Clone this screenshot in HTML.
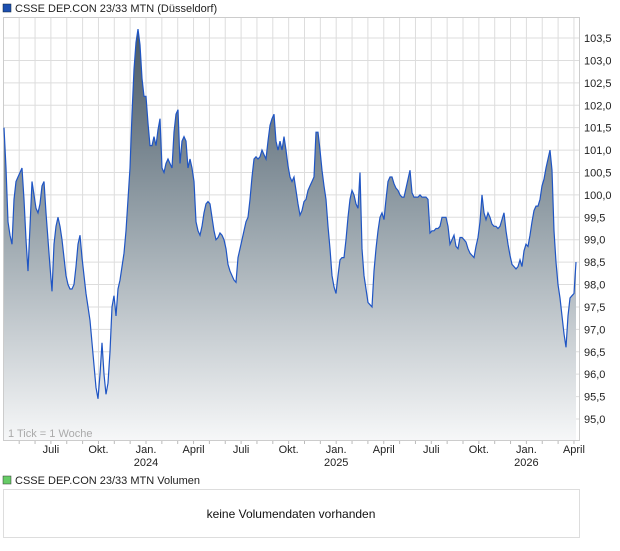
<!DOCTYPE html>
<html><head><meta charset="utf-8"><style>
body{margin:0;background:#fff;font-family:"Liberation Sans",Arial,sans-serif;}
svg text{font-family:"Liberation Sans",Arial,sans-serif;}
</style></head><body>
<svg id="c" width="620" height="546" xmlns="http://www.w3.org/2000/svg">
<defs><linearGradient id="g" gradientUnits="userSpaceOnUse" x1="0" y1="30" x2="0" y2="440">
<stop offset="0" stop-color="#485866"/><stop offset="0.45" stop-color="#94a0a8"/><stop offset="1" stop-color="#f6f7f8"/></linearGradient></defs>
<rect x="3" y="4" width="8" height="8" fill="#1c4fb0" stroke="#123" stroke-width="0.5"/>
<text x="15" y="12" font-size="11" fill="#222">CSSE DEP.CON 23/33 MTN (Düsseldorf)</text>
<rect x="3.5" y="17.5" width="576" height="423" fill="#fff" stroke="#ccc"/>
<g id="grid"></g><g id="series"></g><g id="axes"></g>
<text x="8" y="437" font-size="11" fill="#aaa">1 Tick = 1 Woche</text>
<rect x="3" y="476" width="8" height="8" fill="#6c6" stroke="#333" stroke-width="0.5"/>
<text x="15" y="484" font-size="11" fill="#222">CSSE DEP.CON 23/33 MTN Volumen</text>
<rect x="3.5" y="489.5" width="576" height="48" fill="#fff" stroke="#ddd"/>
<text x="291" y="518" font-size="12" fill="#111" text-anchor="middle">keine Volumendaten vorhanden</text>
</svg>
<script>
const prices=[101.5,100.6,99.4,99.1,98.9,99.9,100.3,100.4,100.5,100.6,99.9,99.0,98.3,99.3,100.3,100.0,99.7,99.6,99.8,100.2,100.3,99.6,99.0,98.4,97.85,98.9,99.3,99.5,99.3,99.0,98.6,98.2,98.0,97.9,97.9,98.0,98.4,98.9,99.1,98.6,98.2,97.8,97.5,97.2,96.7,96.2,95.7,95.45,96.0,96.7,96.0,95.55,95.8,96.5,97.5,97.75,97.3,97.9,98.1,98.4,98.7,99.2,99.9,100.6,101.8,102.8,103.4,103.7,103.35,102.6,102.2,102.2,101.6,101.1,101.1,101.3,101.1,101.45,101.7,100.6,100.5,100.7,100.8,100.7,100.6,101.4,101.8,101.9,100.7,101.2,101.3,101.2,100.6,100.8,100.6,100.3,99.4,99.2,99.1,99.3,99.6,99.8,99.85,99.8,99.5,99.2,99.0,99.05,99.15,99.1,99.0,98.8,98.45,98.3,98.2,98.1,98.05,98.6,98.8,99.0,99.2,99.4,99.5,99.9,100.4,100.8,100.85,100.8,100.85,101.0,100.9,100.8,101.2,101.55,101.7,101.8,101.2,101.0,101.2,101.0,101.3,101.0,100.65,100.4,100.3,100.4,100.1,99.8,99.55,99.65,99.85,99.9,100.1,100.2,100.3,100.4,101.4,101.4,101.0,100.55,100.2,99.9,99.3,98.8,98.2,97.95,97.8,98.2,98.55,98.6,98.6,99.0,99.5,99.9,100.1,100.0,99.8,99.7,100.5,98.8,98.2,97.9,97.6,97.55,97.5,98.3,98.8,99.2,99.5,99.6,99.45,99.9,100.3,100.4,100.4,100.25,100.15,100.1,100.0,99.95,99.95,100.15,100.35,100.55,100.05,99.95,99.95,99.95,100.0,99.95,99.95,99.95,99.9,99.15,99.2,99.2,99.25,99.25,99.3,99.5,99.5,99.5,99.3,98.9,99.0,99.1,98.85,98.8,99.05,99.05,99.0,98.95,98.8,98.7,98.65,98.6,98.85,99.05,99.4,100.0,99.6,99.45,99.6,99.5,99.35,99.3,99.3,99.25,99.3,99.45,99.6,99.2,98.9,98.65,98.45,98.4,98.35,98.4,98.55,98.4,98.75,98.9,98.85,99.1,99.4,99.65,99.75,99.75,99.9,100.2,100.35,100.6,100.8,101.0,100.55,99.2,98.5,98.0,97.7,97.3,96.9,96.6,97.3,97.7,97.75,97.8,98.5];
const yTicks=[95.0,95.5,96.0,96.5,97.0,97.5,98.0,98.5,99.0,99.5,100.0,100.5,101.0,101.5,102.0,102.5,103.0,103.5];
const monthLabels=["Juli","Okt.","Jan.","April","Juli","Okt.","Jan.","April","Juli","Okt.","Jan.","April"];
const monthIndex=[-6,-3,0,3,6,9,12,15,18,21,24,27];
const yearLabels=["2024","2025","2026"];
const yearMonth=[0,12,24];
const NS="http://www.w3.org/2000/svg";
const X0=4,X1=576,TOP=17,BOT=440;
function xs(i){return X0+(X1-X0)*i/(prices.length-1);}
function ys(v){return 419-(v-95)*44.82;}
function mx(m){return 146+m*15.85;}
function el(tag,attrs,parent){const e=document.createElementNS(NS,tag);for(const k in attrs)e.setAttribute(k,attrs[k]);parent.appendChild(e);return e;}
const grid=document.getElementById('grid'),ser=document.getElementById('series'),ax=document.getElementById('axes');
yTicks.forEach(v=>{
 const l=el('line',{x1:4,x2:579,y1:ys(v),y2:ys(v),stroke:'#ddd'},grid);
 
 
 const t=el('text',{x:584,y:ys(v)+4,'font-size':11,fill:'#222'},ax);
 t.textContent=v.toFixed(1).replace('.',',');
 
 
});
for(let m=-10;m<=28;m++){const x=mx(m);if(x<5||x>578)continue;
 const l=el('line',{x1:x,x2:x,y1:18,y2:440,stroke:'#ddd'},grid);
 
 
 const tk=el('line',{x1:x,x2:x,y1:441,y2:444,stroke:'#bbb'},ax);
 
 
}
monthLabels.forEach((s,i)=>{const t=el('text',{x:mx(monthIndex[i]),y:453,'font-size':11,fill:'#222','text-anchor':'middle'},ax);
 t.textContent=s;
 
 });
yearLabels.forEach((s,i)=>{const t=el('text',{x:mx(yearMonth[i]),y:466,'font-size':11,fill:'#222','text-anchor':'middle'},ax);
 t.textContent=s;
 
 });
let d=prices.map((v,i)=>(i?'L':'M')+xs(i).toFixed(1)+' '+ys(v).toFixed(1)).join(' ');
const area=el('path',{d:d+` L${X1} ${BOT} L${X0} ${BOT} Z`,fill:'url(#g)'},ser);


const line=el('path',{d:d,fill:'none',stroke:'#1f55c4','stroke-width':1.2},ser);


</script>
</body></html>
